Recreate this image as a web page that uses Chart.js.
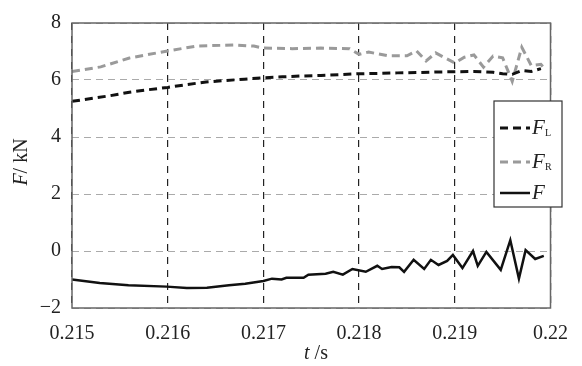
<!DOCTYPE html>
<html>
<head>
<meta charset="utf-8">
<script src="https://cdn.jsdelivr.net/npm/chart.js@4/dist/chart.umd.min.js"></script>
<style>
  html, body { margin: 0; padding: 0; background: #fff; }
  #wrap { width: 582px; height: 366px; }
</style>
</head>
<body>
<div id="wrap"><canvas id="chartForce"></canvas></div>
<script>
// data
var tF = [0.21500, 0.21529, 0.21559, 0.21599, 0.21620, 0.21641, 0.21664, 0.21681, 0.21700, 0.21709,
          0.21719, 0.21724, 0.21742, 0.21747, 0.21765, 0.21773, 0.21783, 0.21793, 0.21807, 0.21819,
          0.21824, 0.21834, 0.21842, 0.21847, 0.21857, 0.21868, 0.21875, 0.21883, 0.21892, 0.21898,
          0.21908, 0.21919, 0.21924, 0.21933, 0.21948, 0.21958, 0.21967, 0.21974, 0.21984, 0.21993];
var F  = [-1.00, -1.12, -1.20, -1.25, -1.30, -1.29, -1.20, -1.15, -1.05, -0.97,
          -1.00, -0.94, -0.94, -0.83, -0.80, -0.73, -0.83, -0.63, -0.73, -0.52,
          -0.63, -0.56, -0.57, -0.73, -0.31, -0.63, -0.31, -0.49, -0.35, -0.14,
          -0.60, 0.00, -0.52, -0.03, -0.66, 0.38, -0.97, 0.03, -0.28, -0.17];

var tL = [0.2150, 0.2152, 0.2154, 0.2156, 0.2158, 0.2160, 0.2162, 0.2164, 0.2166, 0.2168,
          0.2170, 0.2172, 0.2174, 0.2176, 0.2178, 0.2180, 0.2182, 0.2184, 0.2186, 0.2188,
          0.2190, 0.2192, 0.2194, 0.2195, 0.2196, 0.2197, 0.2198, 0.2199];
var FL = [5.25, 5.35, 5.45, 5.57, 5.66, 5.74, 5.84, 5.93, 5.98, 6.03,
          6.08, 6.11, 6.14, 6.16, 6.19, 6.22, 6.23, 6.25, 6.26, 6.28,
          6.29, 6.30, 6.27, 6.22, 6.20, 6.33, 6.30, 6.40];

var tR = [0.2150, 0.2153, 0.2156, 0.2160, 0.2163, 0.2167, 0.2169, 0.2170, 0.2173, 0.2176,
          0.2179, 0.2180, 0.2181, 0.2183, 0.2185, 0.2186, 0.2187, 0.2188, 0.2189, 0.2190,
          0.2191, 0.2192, 0.2193, 0.2194, 0.2195, 0.2196, 0.2197, 0.2198, 0.2199, 0.21995];
var FR = [6.30, 6.46, 6.77, 7.02, 7.19, 7.23, 7.19, 7.12, 7.10, 7.12,
          7.10, 6.90, 6.98, 6.85, 6.85, 7.02, 6.67, 6.95, 6.77, 6.60,
          6.80, 6.88, 6.45, 6.84, 6.78, 5.95, 7.15, 6.50, 6.55, 6.36];

var xTicks = [0.215, 0.216, 0.217, 0.218, 0.219, 0.22];
var xTickLabels = ["0.215", "0.216", "0.217", "0.218", "0.219", "0.22"];
var yTicks = [-2, 0, 2, 4, 6, 8];
var yTickLabels = ["\u22122", "0", "2", "4", "6", "8"];

var seriesNames = [["F", "L"], ["F", "R"], ["F", ""]];

function pts(t, v) {
  return t.map(function (x, i) { return { x: x, y: v[i] }; });
}

var SERIF = "'Liberation Serif', 'Times New Roman', serif";

// frame, axis titles and legend with subscripts
var decor = {
  id: "decor",
  afterDatasetsDraw: function (chart) {
    var c = chart.ctx, a = chart.chartArea;
    c.save();
    c.strokeStyle = "#666";
    c.lineWidth = 1.5;
    c.setLineDash([]);
    c.strokeRect(a.left, a.top, a.right - a.left, a.bottom - a.top);

    // axis titles
    c.fillStyle = "#222";
    c.textBaseline = "middle";
    c.font = "italic 20px " + SERIF;
    var w1 = c.measureText("t").width;
    c.font = "20px " + SERIF;
    var w2 = c.measureText(" /s").width;
    var x0 = 316 - (w1 + w2) / 2;
    c.textAlign = "left";
    c.font = "italic 20px " + SERIF;
    c.fillText("t", x0, 354);
    c.font = "20px " + SERIF;
    c.fillText(" /s", x0 + w1, 354);

    c.save();
    c.translate(22, 162);
    c.rotate(-Math.PI / 2);
    c.font = "italic 20px " + SERIF;
    var w3 = c.measureText("F").width;
    c.font = "20px " + SERIF;
    var w4 = c.measureText("/ kN").width;
    var y0 = -(w3 + w4) / 2;
    c.font = "italic 20px " + SERIF;
    c.fillText("F", y0, 0);
    c.font = "20px " + SERIF;
    c.fillText("/ kN", y0 + w3, 0);
    c.restore();

    // legend box
    var bx = 494, by = 101, bw = 68, bh = 106;
    c.fillStyle = "#fff";
    c.fillRect(bx, by, bw, bh);
    c.strokeStyle = "#333";
    c.lineWidth = 1.2;
    c.strokeRect(bx, by, bw, bh);
    var rows = [128, 162, 193];
    chart.data.datasets.forEach(function (ds, i) {
      var y = rows[i];
      c.strokeStyle = ds.borderColor;
      c.lineWidth = ds.borderWidth;
      c.setLineDash(ds.borderDash || []);
      c.beginPath();
      c.moveTo(500, y);
      c.lineTo(530, y);
      c.stroke();
      c.setLineDash([]);
      c.fillStyle = "#222";
      c.textAlign = "left";
      c.font = "italic 21px " + SERIF;
      c.fillText(seriesNames[i][0], 532, y);
      if (seriesNames[i][1]) {
        c.font = "10px " + SERIF;
        c.fillText(seriesNames[i][1], 545, y + 5);
      }
    });
    c.restore();
  }
};

var ctx = document.getElementById("chartForce").getContext("2d");
var myChart = new Chart(ctx, {
  type: "scatter",
  data: {
    datasets: [
      {
        label: "FL",
        data: pts(tL, FL),
        showLine: true,
        borderColor: "#111",
        borderWidth: 3,
        borderDash: [8, 5],
        pointRadius: 0,
        tension: 0
      },
      {
        label: "FR",
        data: pts(tR, FR),
        showLine: true,
        borderColor: "#9a9a9a",
        borderWidth: 3,
        borderDash: [8, 5],
        pointRadius: 0,
        tension: 0
      },
      {
        label: "F",
        data: pts(tF, F),
        showLine: true,
        borderColor: "#111",
        borderWidth: 2.5,
        pointRadius: 0,
        tension: 0
      }
    ]
  },
  options: {
    responsive: true,
    maintainAspectRatio: false,
    animation: false,
    layout: { padding: { top: 19, right: 19, left: 0, bottom: 0 } },
    plugins: {
      legend: { display: false },
      tooltip: { enabled: false }
    },
    scales: {
      x: {
        type: "linear",
        min: 0.215,
        max: 0.22,
        afterBuildTicks: function (scale) {
          scale.ticks = xTicks.map(function (v) { return { value: v }; });
        },
        afterFit: function (scale) { scale.height = 58; },
        ticks: {
          color: "#222",
          font: { family: SERIF, size: 20 },
          padding: 14,
          maxRotation: 0,
          autoSkip: false,
          callback: function (v, i) { return xTickLabels[i]; }
        },
        grid: { color: "#222", lineWidth: 1.2, drawTicks: false },
        border: { display: false, dash: [7, 6] }
      },
      y: {
        min: -2,
        max: 8,
        afterBuildTicks: function (scale) {
          scale.ticks = yTicks.map(function (v) { return { value: v }; });
        },
        afterFit: function (scale) { scale.width = 72; },
        ticks: {
          color: "#222",
          font: { family: SERIF, size: 20 },
          padding: 11,
          autoSkip: false,
          callback: function (v, i) { return yTickLabels[i]; }
        },
        grid: { color: "#aaa", lineWidth: 1, drawTicks: false },
        border: { display: false, dash: [7, 5] }
      }
    }
  },
  plugins: [decor]
});
</script>
</body>
</html>
